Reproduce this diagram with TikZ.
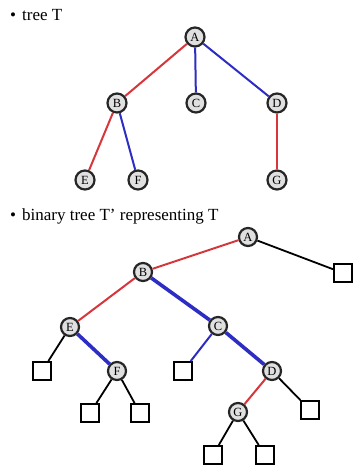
\documentclass[tikz,border=0pt]{standalone}
\usepackage{fontspec}
\setmainfont{Liberation Serif}
\definecolor{tred}{RGB}{215,55,60}
\definecolor{tblue}{RGB}{45,45,195}
\begin{document}
\begin{tikzpicture}[x=1pt,y=-1pt,
  vtx/.style={circle,draw=black!85,line width=2.2pt,fill=black!12,minimum size=19pt,inner sep=0pt,font=\fontsize{12.5}{13}\selectfont},
  bvtx/.style={vtx,minimum size=18pt},
  leaf/.style={rectangle,draw=black,line width=1.9pt,fill=white,minimum size=18pt,inner sep=0pt},
  redge/.style={draw=tred,line width=2pt},
  bedge/.style={draw=tblue,line width=2pt},
  bthick/.style={draw=tblue,line width=3.6pt},
  kedge/.style={draw=black,line width=1.8pt},
  lbl/.style={anchor=west,font=\fontsize{17}{19}\selectfont,inner sep=0pt}]
\useasboundingbox[fill=white] (0,0) rectangle (354,468);
% titles
\node[lbl] (t1) at (10,15) {\textbullet\hspace{6pt}tree T};
\node[lbl] (t2) at (10,216) {\textbullet\hspace{6pt}binary tree T' representing T};
% tree T
\node[vtx] (A) at (195,37) {A};
\node[vtx] (B) at (117,103) {B};
\node[vtx] (C) at (196,103) {C};
\node[vtx] (D) at (277,103) {D};
\node[vtx] (E) at (85,180) {E};
\node[vtx] (F) at (138,180) {F};
\node[vtx] (G) at (277,180) {G};
\draw[redge] (A) -- (B);
\draw[bedge] (A) -- (C);
\draw[bedge] (A) -- (D);
\draw[redge] (B) -- (E);
\draw[bedge] (B) -- (F);
\draw[redge] (D) -- (G);
% binary tree T'
\node[bvtx] (bA) at (248,237) {A};
\node[leaf] (sA) at (343,273) {};
\node[bvtx] (bB) at (143,272) {B};
\node[bvtx] (bE) at (70,327) {E};
\node[bvtx] (bC) at (218,326) {C};
\node[leaf] (sE) at (42,371) {};
\node[bvtx] (bF) at (117,371) {F};
\node[leaf] (sC) at (183,371) {};
\node[bvtx] (bD) at (272,371) {D};
\node[leaf] (sF1) at (90,413) {};
\node[leaf] (sF2) at (140,413) {};
\node[bvtx] (bG) at (238,412) {G};
\node[leaf] (sD) at (310,410) {};
\node[leaf] (sG1) at (213,455) {};
\node[leaf] (sG2) at (265,455) {};
\draw[redge] (bA) -- (bB);
\draw[kedge] (bA) -- (sA);
\draw[redge] (bB) -- (bE);
\draw[bthick] (bB) -- (bC);
\draw[kedge] (bE) -- (sE);
\draw[bthick] (bE) -- (bF);
\draw[bedge] (bC) -- (sC);
\draw[bthick] (bC) -- (bD);
\draw[redge] (bD) -- (bG);
\draw[kedge] (bD) -- (sD);
\draw[kedge] (bF) -- (sF1);
\draw[kedge] (bF) -- (sF2);
\draw[kedge] (bG) -- (sG1);
\draw[kedge] (bG) -- (sG2);
\end{tikzpicture}
\end{document}
